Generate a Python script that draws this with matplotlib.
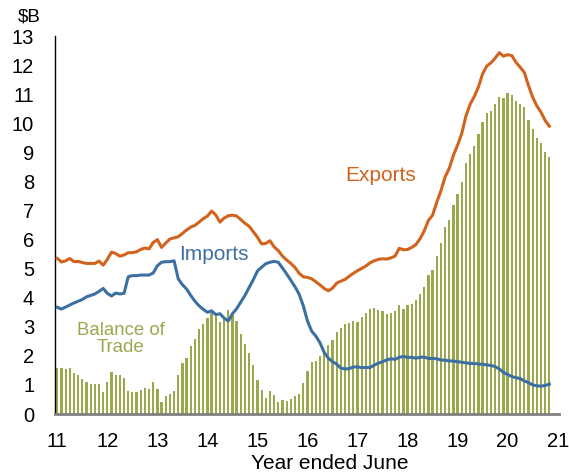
import matplotlib
matplotlib.use('Agg')
import matplotlib.pyplot as plt

# ─── Data: monthly, year ended June, Jun-2011 onwards ($B) ───────────────────
START_YEAR = 11

exports = [
    5.35, 5.23, 5.27, 5.35, 5.24, 5.25, 5.21, 5.18, 5.18, 5.18, 5.26, 5.12,
    5.32, 5.57, 5.52, 5.43, 5.47, 5.55, 5.55, 5.58, 5.66, 5.71, 5.68, 5.90,
    6.00, 5.73, 5.88, 6.02, 6.06, 6.10, 6.21, 6.33, 6.43, 6.49, 6.60, 6.72,
    6.81, 6.98, 6.85, 6.60, 6.74, 6.82, 6.84, 6.81, 6.69, 6.56, 6.46, 6.27,
    6.08, 5.85, 5.87, 5.96, 5.75, 5.62, 5.43, 5.30, 5.18, 5.04, 4.84, 4.72,
    4.70, 4.65, 4.55, 4.44, 4.32, 4.24, 4.33, 4.50, 4.57, 4.63, 4.74, 4.84,
    4.93, 5.01, 5.09, 5.20, 5.27, 5.32, 5.34, 5.33, 5.37, 5.43, 5.70, 5.65,
    5.66, 5.73, 5.83, 6.03, 6.30, 6.66, 6.84, 7.28, 7.68, 8.15, 8.45, 8.90,
    9.25, 9.65, 10.25, 10.65, 10.92, 11.25, 11.70, 11.97, 12.08, 12.24, 12.43, 12.31,
    12.36, 12.33, 12.10, 11.93, 11.75, 11.30, 10.90, 10.60, 10.38, 10.10, 9.90,
]

imports = [
    3.67, 3.61, 3.68, 3.75, 3.82, 3.88, 3.94, 4.03, 4.08, 4.13, 4.22, 4.32,
    4.15, 4.06, 4.16, 4.13, 4.15, 4.72, 4.76, 4.76, 4.78, 4.78, 4.78, 4.85,
    5.10, 5.22, 5.24, 5.24, 5.27, 4.65, 4.45, 4.30, 4.08, 3.88, 3.72, 3.60,
    3.50, 3.55, 3.42, 3.45, 3.30, 3.20, 3.45, 3.62, 3.85, 4.08, 4.35, 4.62,
    4.92, 5.05, 5.17, 5.22, 5.25, 5.22, 5.02, 4.82, 4.60, 4.38, 4.12, 3.72,
    3.20, 2.85, 2.68, 2.45, 2.12, 1.92, 1.80, 1.72, 1.58, 1.55, 1.56, 1.62,
    1.62, 1.60, 1.60, 1.60, 1.68, 1.75, 1.80, 1.86, 1.90, 1.88, 1.95, 1.98,
    1.95, 1.95, 1.92, 1.95, 1.96, 1.91, 1.91, 1.90, 1.86, 1.85, 1.83, 1.82,
    1.80, 1.78, 1.76, 1.74, 1.74, 1.72, 1.71, 1.69, 1.67, 1.63, 1.55, 1.43,
    1.36, 1.29, 1.25, 1.22, 1.14, 1.08, 1.00, 0.97, 0.96, 0.98, 1.03,
]

balance = [
    1.59, 1.59, 1.56, 1.59, 1.42, 1.33, 1.19, 1.10, 1.04, 1.02, 1.02, 0.77,
    1.10, 1.44, 1.35, 1.33, 1.24, 0.79, 0.76, 0.76, 0.84, 0.88, 0.85, 1.10,
    0.86, 0.42, 0.63, 0.69, 0.79, 1.34, 1.75, 1.92, 2.34, 2.58, 2.92, 3.09,
    3.31, 3.46, 3.40, 3.15, 3.35, 3.58, 3.40, 3.20, 2.74, 2.41, 2.11, 1.70,
    1.16, 0.84, 0.56, 0.80, 0.64, 0.42, 0.47, 0.45, 0.50, 0.62, 0.69, 1.05,
    1.47, 1.78, 1.83, 2.01, 2.18, 2.36, 2.55, 2.82, 2.97, 3.08, 3.12, 3.20,
    3.17, 3.34, 3.47, 3.60, 3.64, 3.57, 3.53, 3.45, 3.48, 3.56, 3.75, 3.61,
    3.74, 3.78, 3.91, 4.12, 4.36, 4.78, 4.94, 5.44, 5.89, 6.42, 6.67, 7.20,
    7.57, 7.98, 8.63, 8.96, 9.23, 9.63, 10.04, 10.34, 10.42, 10.65, 10.91, 10.88,
    11.03, 10.99, 10.76, 10.68, 10.56, 10.11, 9.79, 9.48, 9.31, 9.01, 8.85,
]

year_ticks = list(range(11, 22))
y_ticks = list(range(0, 14))

# ─── Style ───────────────────────────────────────────────────────────────────
C_EXP = '#D2631D'
C_IMP = '#3D70A2'
C_BAL = '#9AA84E'
FONT = 'Liberation Sans'

plt.rcParams['font.family'] = [FONT, 'DejaVu Sans']

x = [START_YEAR + i / 12 for i in range(len(balance))]

fig = plt.figure(figsize=(5.69, 4.73), dpi=100)
ax = fig.add_axes([0.0967, 0.1247, 0.886, 0.799])

ax.bar(x, balance, width=0.045, color=C_BAL, zorder=1)
ax.plot(x, exports, color=C_EXP, linewidth=2.2, zorder=3)
ax.plot(x, imports, color=C_IMP, linewidth=2.2, zorder=3)

ax.set_xlim(10.954, 21.03)
ax.set_ylim(0, 13)
ax.set_xticks(year_ticks)
ax.set_yticks(y_ticks)
ax.tick_params(axis='both', length=0, labelsize=14.5)
ax.tick_params(axis='y', pad=15)
ax.tick_params(axis='x', pad=13)

for side in ('top', 'right'):
    ax.spines[side].set_visible(False)
ax.spines['left'].set_color('black')
ax.spines['left'].set_linewidth(1.0)
ax.spines['bottom'].set_color('#808080')
ax.spines['bottom'].set_linewidth(2.0)

# series labels sit next to their lines, no legend
ax.text(17.46, 8.22, 'Exports', color=C_EXP, fontsize=15, ha='center', va='center')
ax.text(14.13, 5.50, 'Imports', color=C_IMP, fontsize=15, ha='center', va='center')
ax.text(12.27, 2.58, 'Balance of\nTrade', color=C_BAL, fontsize=13.4,
        ha='center', va='center', linespacing=1.05)

fig.text(29 / 569, 1 - 17 / 473, '$B', fontsize=13.5, ha='center', va='center')
fig.text(330 / 569, 1 - 463 / 473, 'Year ended June', fontsize=15, ha='center', va='center')

fig.savefig('out.png', dpi=100)
